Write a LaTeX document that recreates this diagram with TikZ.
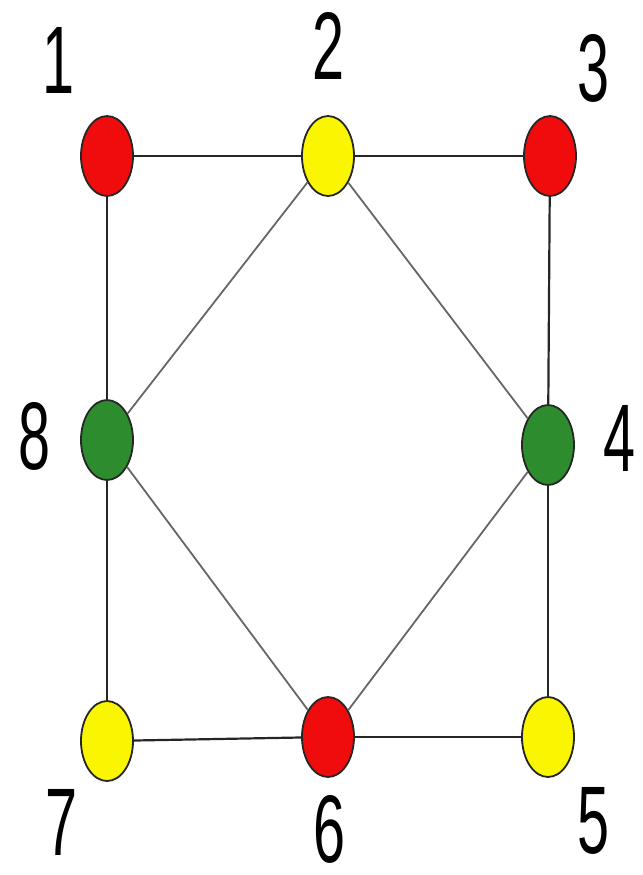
\documentclass[tikz,border=0pt]{standalone}
\usepackage{fontspec}
\setmainfont{Liberation Sans}
\usepackage{graphicx}
\usetikzlibrary{shapes.geometric}

\definecolor{vred}{RGB}{240,12,12}
\definecolor{vyellow}{RGB}{250,245,0}
\definecolor{vgreen}{RGB}{45,140,45}

\newcommand{\narrownum}[1]{\scalebox{0.6}[1]{#1}}

\begin{document}
\begin{tikzpicture}[
  x=0.5pt, y=-0.5pt,
  vertex/.style={ellipse, draw=black!85, line width=0.9pt, minimum width=26pt,
    minimum height=40pt, inner sep=0pt},
  num/.style={inner sep=0pt, font=\fontsize{48}{48}\selectfont},
  edge/.style={black!85, line width=1.1pt},
  diag/.style={black!60, line width=0.9pt}
]
  \useasboundingbox (0,0) rectangle (643,875);

  % --- vertices ---------------------------------------------------------
  \node[vertex, fill=vred]    (v1) at (107,156) {};
  \node[vertex, fill=vyellow] (v2) at (328,156) {};
  \node[vertex, fill=vred]    (v3) at (550,156) {};
  \node[vertex, fill=vgreen]  (v8) at (107,440) {};
  \node[vertex, fill=vgreen]  (v4) at (548,445) {};
  \node[vertex, fill=vyellow] (v7) at (107,741) {};
  \node[vertex, fill=vred]    (v6) at (328,737) {};
  \node[vertex, fill=vyellow] (v5) at (548,737) {};

  % --- numbers ----------------------------------------------------------
  \node[num] (n1) at (59,60)   {\narrownum{1}};
  \node[num] (n2) at (329,46)  {\narrownum{2}};
  \node[num] (n3) at (594,68)  {\narrownum{3}};
  \node[num] (n8) at (35,436)  {\narrownum{8}};
  \node[num] (n4) at (620,438) {\narrownum{4}};
  \node[num] (n7) at (62,822)  {\narrownum{7}};
  \node[num] (n6) at (330,829) {\narrownum{6}};
  \node[num] (n5) at (594,821) {\narrownum{5}};

  % --- edges ------------------------------------------------------------
  \draw[edge] (v1) -- (v2);
  \draw[edge] (v2) -- (v3);
  \draw[edge] (v1) -- (v8);
  \draw[edge] (v8) -- (v7);
  \draw[edge] (v3) -- (v4);
  \draw[edge] (v4) -- (v5);
  \draw[edge] (v7) -- (v6);
  \draw[edge] (v6) -- (v5);
  \draw[diag] (v2) -- (v8);
  \draw[diag] (v2) -- (v4);
  \draw[diag] (v8) -- (v6);
  \draw[diag] (v6) -- (v4);
\end{tikzpicture}
\end{document}
